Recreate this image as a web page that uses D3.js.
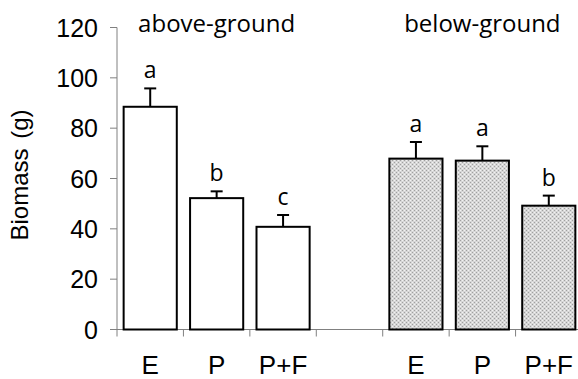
<!DOCTYPE html>
<html>
<head>
<meta charset="utf-8">
<script src="https://cdn.jsdelivr.net/npm/d3@7"></script>
<style>
    body { margin: 0; background: #fff; }
    .tick-label { font-family: "Liberation Sans", Arial, sans-serif; font-size: 25px; fill: #000; }
    .group-title, .letter { font-family: "Open Sans", "Noto Sans", sans-serif; fill: #000; }
</style>
</head>
<body>
<div class="graph"></div>
<script>
    const slots = ["E1", "P1", "PF1", "gap", "E2", "P2", "PF2"];
    const slotLabels = ["E", "P", "P+F", "", "E", "P", "P+F"];
    const groups = ["above", "above", "above", null, "below", "below", "below"];
    const means = [88.5, 52.2, 40.8, null, 67.9, 67.1, 49.2];
    const errors = [7.3, 2.7, 4.7, null, 6.6, 5.7, 4.0];
    const letters = ["a", "b", "c", "", "a", "a", "b"];
    const groupTitles = [
        {text: "above-ground", mid: "P1"},
        {text: "below-ground", mid: "P2"}
    ];
    const yTicks = [0, 20, 40, 60, 80, 100, 120];

    const width = 578, height = 379;
    const svg = d3.select(".graph").append("svg")
        .attr("width", width)
        .attr("height", height);

    // hatched grey fill of the below-ground bars
    const defs = svg.append("defs");
    const pat = defs.append("pattern")
        .attr("id", "dots")
        .attr("patternUnits", "userSpaceOnUse")
        .attr("width", 4).attr("height", 4);
    pat.append("rect").attr("width", 4).attr("height", 4).attr("fill", "#d6d6d6");
    pat.append("rect").attr("x", 0).attr("y", 0).attr("width", 1).attr("height", 1).attr("fill", "#a0a0a0");
    pat.append("rect").attr("x", 2).attr("y", 2).attr("width", 1).attr("height", 1).attr("fill", "#a0a0a0");
    pat.append("rect").attr("x", 2).attr("y", 0).attr("width", 1).attr("height", 1).attr("fill", "#f2f2f2");
    pat.append("rect").attr("x", 0).attr("y", 2).attr("width", 1).attr("height", 1).attr("fill", "#f2f2f2");

    const x = d3.scaleBand().domain(slots).range([117, 582]).padding(0);
    const y = d3.scaleLinear().domain([0, 120]).range([329.5, 27.5]);
    const barW = x.bandwidth() * 0.8;

    const axisColor = "#808080";

    // y axis
    svg.append("line")
        .attr("x1", 117).attr("x2", 117)
        .attr("y1", y(0)).attr("y2", y(120))
        .attr("stroke", axisColor).attr("stroke-width", 1);
    svg.selectAll("line.ytick").data(yTicks).enter().append("line")
        .attr("class", "ytick")
        .attr("x1", 110).attr("x2", 117)
        .attr("y1", d => y(d)).attr("y2", d => y(d))
        .attr("stroke", axisColor);
    svg.selectAll("text.ytl").data(yTicks).enter().append("text")
        .attr("class", "tick-label ytl")
        .attr("x", 98)
        .attr("y", d => y(d))
        .attr("dy", "0.36em")
        .attr("text-anchor", "end")
        .text(d => d);

    svg.append("text")
        .attr("class", "tick-label")
        .attr("transform", "translate(28," + 175 + ")rotate(-90)")
        .attr("text-anchor", "middle")
        .style("font-size", "24px")
        .style("word-spacing", "3px")
        .text("Biomass (g)");

    // x axis
    svg.append("line")
        .attr("x1", 117).attr("x2", width)
        .attr("y1", y(0)).attr("y2", y(0))
        .attr("stroke", axisColor);
    svg.selectAll("line.xtick").data(slots).enter().append("line")
        .attr("class", "xtick")
        .attr("x1", d => x(d)).attr("x2", d => x(d))
        .attr("y1", y(0)).attr("y2", y(0) + 7)
        .attr("stroke", axisColor);
    svg.selectAll("text.xtl").data(slots).enter().append("text")
        .attr("class", "tick-label xtl")
        .attr("x", d => x(d) + x.bandwidth() / 2)
        .attr("y", 374)
        .attr("text-anchor", "middle")
        .style("font-size", "26px")
        .text((d, i) => slotLabels[i]);

    const idx = d3.range(slots.length).filter(i => means[i] !== null);

    // error bars (drawn first so the bar top covers the stem)
    const eb = svg.selectAll("g.err").data(idx).enter().append("g").attr("class", "err");
    eb.append("line")
        .attr("x1", i => x(slots[i]) + x.bandwidth() / 2)
        .attr("x2", i => x(slots[i]) + x.bandwidth() / 2)
        .attr("y1", i => y(means[i]))
        .attr("y2", i => y(means[i] + errors[i]))
        .attr("stroke", "#000").attr("stroke-width", 2);
    eb.append("line")
        .attr("x1", i => x(slots[i]) + x.bandwidth() / 2 - 6)
        .attr("x2", i => x(slots[i]) + x.bandwidth() / 2 + 6)
        .attr("y1", i => y(means[i] + errors[i]))
        .attr("y2", i => y(means[i] + errors[i]))
        .attr("stroke", "#000").attr("stroke-width", 2);

    // bars
    svg.selectAll("rect.bar").data(idx).enter().append("rect")
        .attr("class", "bar")
        .attr("x", i => x(slots[i]) + (x.bandwidth() - barW) / 2)
        .attr("y", i => y(means[i]))
        .attr("width", barW)
        .attr("height", i => y(0) - y(means[i]))
        .attr("fill", i => groups[i] === "below" ? "url(#dots)" : "#fff")
        .attr("stroke", "#000")
        .attr("stroke-width", 2);

    // significance letters
    svg.selectAll("text.letter").data(idx).enter().append("text")
        .attr("class", "letter")
        .attr("x", i => x(slots[i]) + x.bandwidth() / 2)
        .attr("y", i => y(means[i] + errors[i]) - 10)
        .attr("text-anchor", "middle")
        .style("font-size", "23px")
        .text(i => letters[i]);

    // group titles, centred over the middle bar of each group
    svg.selectAll("text.group-title").data(groupTitles).enter().append("text")
        .attr("class", "group-title")
        .attr("x", d => x(d.mid) + x.bandwidth() / 2)
        .attr("y", 32)
        .attr("text-anchor", "middle")
        .style("font-size", "24px")
        .text(d => d.text);
</script>
</body>
</html>
